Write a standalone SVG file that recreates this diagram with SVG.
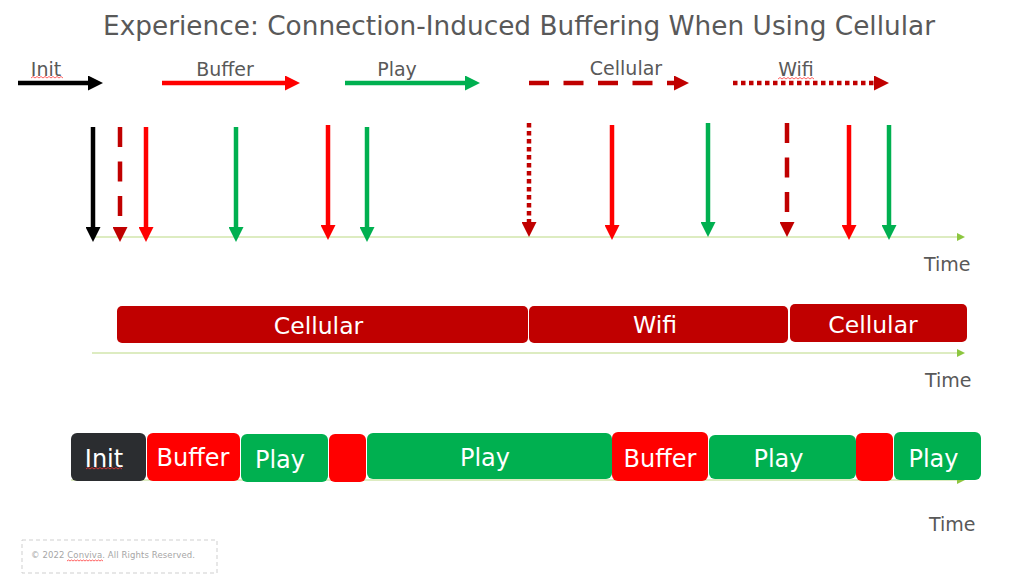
<svg xmlns="http://www.w3.org/2000/svg" width="1024" height="574" viewBox="0 0 1024 574">
<style>
.t{font-family:"DejaVu Sans",sans-serif;fill:#595959}
.lg{font-size:19px;text-anchor:middle}
.time{font-size:19px}
.bt{font-family:"DejaVu Sans",sans-serif;fill:#fff;text-anchor:middle}
.a{fill:none;stroke-width:4.5}
.k{stroke:#000}
.r{stroke:#ff0000}
.g{stroke:#00b050}
.d{stroke:#c00000}
.dash{stroke-dasharray:20 14.5}
.dot{stroke-dasharray:4.5 3.5}
.axis{stroke:#d2e6ad;stroke-width:1.6;fill:none}
.wavy{fill:none;stroke:#ff3b3b;stroke-width:0.8}
.cn{fill:#c00000}
</style>
<defs>
<marker id="mk" viewBox="0 0 15 15" refX="3" refY="7.5" markerWidth="15" markerHeight="15" markerUnits="userSpaceOnUse" orient="auto"><path d="M0,0L15,7.5L0,15z" fill="#000"/></marker>
<marker id="mr" viewBox="0 0 15 15" refX="3" refY="7.5" markerWidth="15" markerHeight="15" markerUnits="userSpaceOnUse" orient="auto"><path d="M0,0L15,7.5L0,15z" fill="#ff0000"/></marker>
<marker id="mg" viewBox="0 0 15 15" refX="3" refY="7.5" markerWidth="15" markerHeight="15" markerUnits="userSpaceOnUse" orient="auto"><path d="M0,0L15,7.5L0,15z" fill="#00b050"/></marker>
<marker id="md" viewBox="0 0 15 15" refX="3" refY="7.5" markerWidth="15" markerHeight="15" markerUnits="userSpaceOnUse" orient="auto"><path d="M0,0L15,7.5L0,15z" fill="#c00000"/></marker>
<marker id="ma" viewBox="0 0 8 8" refX="1" refY="4" markerWidth="8" markerHeight="8" markerUnits="userSpaceOnUse" orient="auto"><path d="M0,0L8,4L0,8z" fill="#8cc63f"/></marker>
</defs>
<rect width="1024" height="574" fill="#fff"/>

<text id="title" class="t" x="519" y="35" font-size="26.4" text-anchor="middle" textLength="832" lengthAdjust="spacingAndGlyphs">Experience: Connection-Induced Buffering When Using Cellular</text>

<g id="legend">
<g id="legend-init"><text class="t lg" x="46" y="76">Init</text><path class="wavy" d="M31,78l2,-1.5l2,1.5l2,-1.5l2,1.5l2,-1.5l2,1.5l2,-1.5l2,1.5l2,-1.5l2,1.5l2,-1.5l2,1.5l2,-1.5l2,1.5l2,-1.5l2,1.5"/><line class="a k" x1="18" y1="83" x2="91" y2="83" marker-end="url(#mk)"/></g>
<g id="legend-buffer"><text class="t lg" x="225" y="76">Buffer</text><line class="a r" x1="162" y1="83" x2="288" y2="83" marker-end="url(#mr)"/></g>
<g id="legend-play"><text class="t lg" x="397" y="76">Play</text><line class="a g" x1="345" y1="83" x2="468" y2="83" marker-end="url(#mg)"/></g>
<g id="legend-cellular"><text class="t lg" x="626" y="75">Cellular</text><line class="a d dash" x1="529" y1="83" x2="677" y2="83" marker-end="url(#md)"/></g>
<g id="legend-wifi"><text class="t lg" x="796" y="76">Wifi</text><path class="wavy" d="M778,79l2,-1.5l2,1.5l2,-1.5l2,1.5l2,-1.5l2,1.5l2,-1.5l2,1.5l2,-1.5l2,1.5l2,-1.5l2,1.5l2,-1.5l2,1.5l2,-1.5l2,1.5l2,-1.5l2,1.5"/><line class="a d dot" x1="733" y1="83" x2="877" y2="83" marker-end="url(#md)"/></g>
</g>

<g id="connectors">
<line class="axis" x1="93" y1="237" x2="958" y2="237" marker-end="url(#ma)"/>
<line class="axis" x1="92" y1="353" x2="958" y2="353" marker-end="url(#ma)"/>
<line class="axis" x1="71" y1="480" x2="958" y2="480" marker-end="url(#ma)"/>
<line class="a k" x1="93" y1="127" x2="93" y2="230" marker-end="url(#mk)"/>
<line class="a d dash" x1="120" y1="127" x2="120" y2="230" marker-end="url(#md)"/>
<line class="a r" x1="146" y1="127" x2="146" y2="230" marker-end="url(#mr)"/>
<line class="a g" x1="236" y1="127" x2="236" y2="230" marker-end="url(#mg)"/>
<line class="a r" x1="328" y1="125" x2="328" y2="228" marker-end="url(#mr)"/>
<line class="a g" x1="367" y1="127" x2="367" y2="230" marker-end="url(#mg)"/>
<line class="a d dot" x1="529" y1="123" x2="529" y2="225" marker-end="url(#md)"/>
<line class="a r" x1="612" y1="125" x2="612" y2="228" marker-end="url(#mr)"/>
<line class="a g" x1="708" y1="123" x2="708" y2="225" marker-end="url(#mg)"/>
<line class="a d dash" x1="787" y1="123" x2="787" y2="225" marker-end="url(#md)"/>
<line class="a r" x1="849" y1="125" x2="849" y2="228" marker-end="url(#mr)"/>
<line class="a g" x1="889" y1="125" x2="889" y2="228" marker-end="url(#mg)"/>
</g>

<text class="t time" x="924" y="271">Time</text>
<text class="t time" x="925" y="387">Time</text>
<text class="t time" x="929" y="531">Time</text>

<g id="net-cellular-1"><rect class="cn" x="117" y="306" width="411" height="37" rx="5"/><text class="bt" x="318.5" y="334" font-size="23.5">Cellular</text></g>
<g id="net-wifi"><rect class="cn" x="529" y="306" width="259" height="37" rx="5"/><text class="bt" x="655" y="333" font-size="23.5">Wifi</text></g>
<g id="net-cellular-2"><rect class="cn" x="790" y="304" width="177" height="38" rx="5"/><text class="bt" x="873" y="332.5" font-size="23.5">Cellular</text></g>

<g id="s-init"><rect x="71" y="433" width="75" height="48" rx="6" fill="#2b2d30"/><text class="bt" x="104" y="466.5" font-size="24">Init</text><path class="wavy" d="M86,469l2,-1.5l2,1.5l2,-1.5l2,1.5l2,-1.5l2,1.5l2,-1.5l2,1.5l2,-1.5l2,1.5l2,-1.5l2,1.5l2,-1.5l2,1.5l2,-1.5l2,1.5l2,-1.5l2,1.5"/></g>
<g id="s-buffer-1"><rect x="147" y="433" width="93" height="48" rx="6" fill="#ff0000"/><text class="bt" x="193" y="466" font-size="24">Buffer</text></g>
<g id="s-play-1"><rect x="241" y="434" width="87" height="48" rx="6" fill="#00b050"/><text class="bt" x="280" y="468" font-size="24">Play</text></g>
<g id="s-buffer-2"><rect x="329" y="434" width="37" height="48" rx="6" fill="#ff0000"/></g>
<g id="s-play-2"><rect x="367" y="433" width="245" height="46" rx="6" fill="#00b050"/><text class="bt" x="485" y="465.5" font-size="24">Play</text></g>
<g id="s-buffer-3"><rect x="612" y="432" width="96" height="49" rx="6" fill="#ff0000"/><text class="bt" x="660" y="466.5" font-size="24">Buffer</text></g>
<g id="s-play-3"><rect x="709" y="435" width="147" height="44" rx="6" fill="#00b050"/><text class="bt" x="778.5" y="467" font-size="24">Play</text></g>
<g id="s-buffer-4"><rect x="856" y="433" width="37" height="48" rx="6" fill="#ff0000"/></g>
<g id="s-play-4"><rect x="894" y="432" width="87" height="48" rx="6" fill="#00b050"/><text class="bt" x="933.5" y="467" font-size="24">Play</text></g>

<g id="footer">
<rect x="22" y="540" width="195" height="33" fill="none" stroke="#cfcfcf" stroke-width="1" stroke-dasharray="4 3"/>
<text x="31" y="558" font-family="DejaVu Sans, sans-serif" font-size="8.5" fill="#a6a6a6" textLength="164">© 2022 Conviva. All Rights Reserved.</text>
<path class="wavy" d="M67,561l1.5,-1l1.5,1l1.5,-1l1.5,1l1.5,-1l1.5,1l1.5,-1l1.5,1l1.5,-1l1.5,1l1.5,-1l1.5,1l1.5,-1l1.5,1l1.5,-1l1.5,1l1.5,-1l1.5,1l1.5,-1l1.5,1l1.5,-1l1.5,1l1.5,-1l1.5,1"/>
</g>
</svg>
